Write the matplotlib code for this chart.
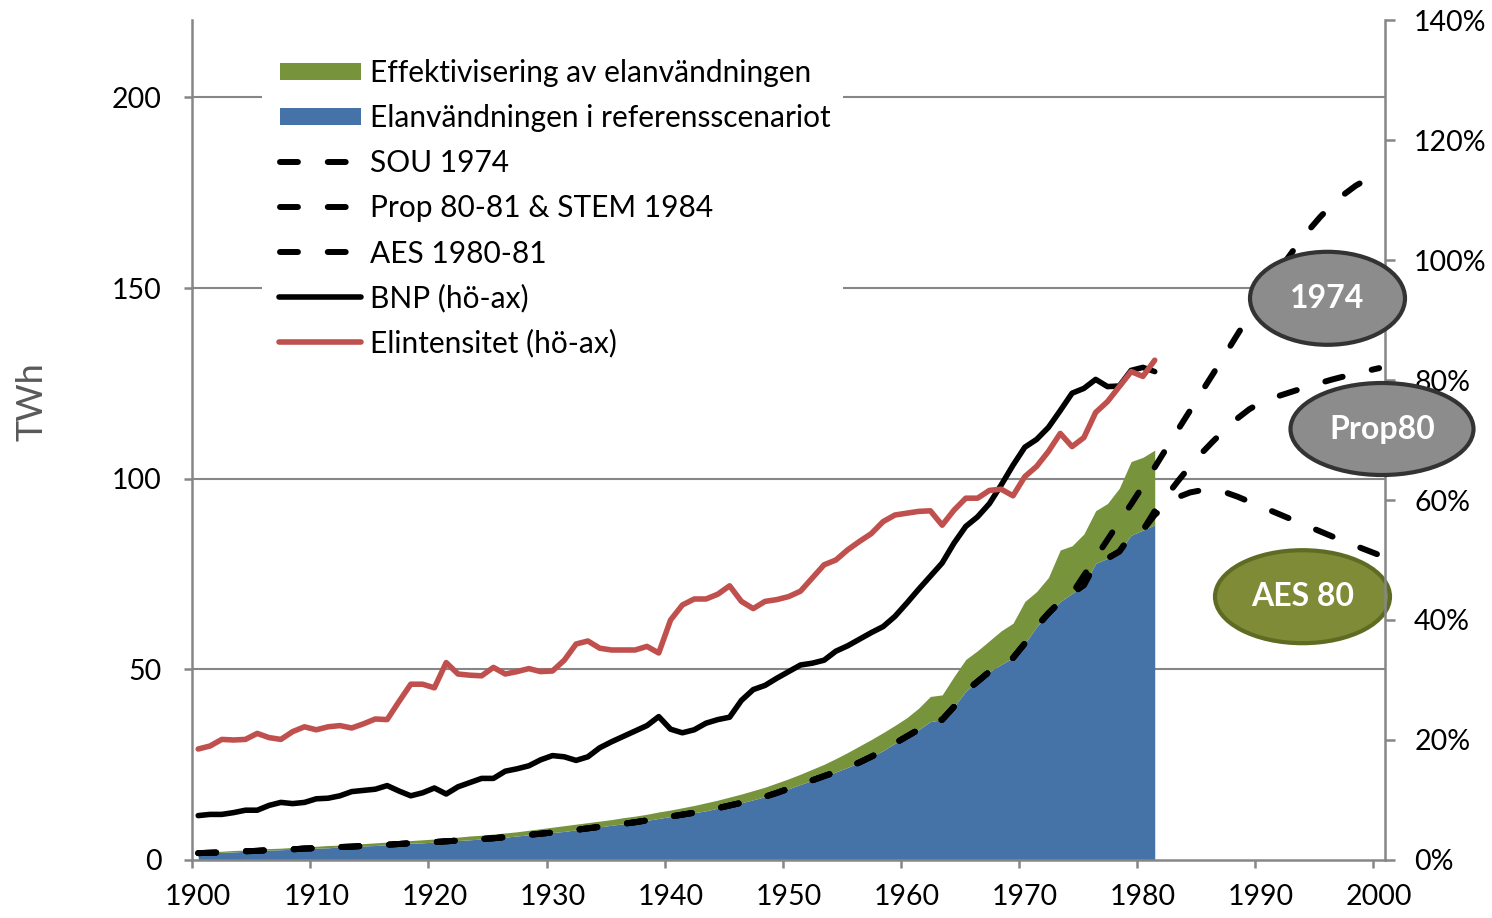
import matplotlib
matplotlib.use('Agg')
import matplotlib.pyplot as plt
from matplotlib.patches import Ellipse, Rectangle
from matplotlib.lines import Line2D
from matplotlib.ticker import FixedLocator, FuncFormatter

plt.rcParams['font.family'] = ['Lato', 'DejaVu Sans']

# ---------------- data ----------------
hist_years = list(range(1900, 1982))

ref = [1.8, 1.9, 2.0, 2.1, 2.3, 2.4, 2.6, 2.7, 2.8, 3.0,
       3.1, 3.2, 3.4, 3.5, 3.7, 3.8, 4.0, 4.2, 4.4, 4.5,
       4.7, 4.9, 5.1, 5.3, 5.5, 5.7, 6.0, 6.3, 6.6, 6.9,
       7.2, 7.5, 7.9, 8.3, 8.7, 9.1, 9.5, 9.9, 10.4, 10.9,
       11.4, 11.9, 12.4, 12.9, 13.6, 14.3, 15.0, 15.8, 16.6, 17.6,
       18.7, 19.8, 20.9, 22.0, 23.1, 24.3, 25.6, 27.1, 28.7, 30.6,
       32.4, 34.2, 36.3, 36.8, 40.2, 44.3, 46.8, 49.4, 51.3, 53.0,
       56.8, 61.2, 64.7, 67.8, 69.9, 72.1, 77.8, 79.1, 80.9, 85.2,
       86.5, 87.9]

eff = [0.3, 0.3, 0.3, 0.4, 0.3, 0.4, 0.4, 0.4, 0.5, 0.5,
       0.5, 0.6, 0.5, 0.6, 0.6, 0.7, 0.7, 0.7, 0.7, 0.8,
       0.8, 0.9, 0.9, 1.0, 1.0, 1.1, 1.1, 1.1, 1.2, 1.3,
       1.4, 1.5, 1.5, 1.5, 1.5, 1.5, 1.6, 1.6, 1.6, 1.7,
       1.7, 1.8, 1.9, 2.1, 2.1, 2.2, 2.3, 2.4, 2.5, 2.6,
       2.6, 2.7, 2.9, 3.1, 3.5, 3.9, 4.3, 4.5, 4.7, 4.7,
       4.9, 5.6, 6.6, 6.5, 7.9, 8.3, 8.1, 8.1, 8.8, 9.1,
       11.0, 9.2, 9.4, 13.5, 12.5, 13.4, 13.8, 14.4, 16.6, 19.3,
       19.1, 19.6]

bnp = [0.074, 0.076, 0.076, 0.079, 0.083, 0.083, 0.091, 0.096, 0.094, 0.096,
       0.102, 0.103, 0.107, 0.114, 0.116, 0.118, 0.124, 0.115, 0.107, 0.112,
       0.120, 0.110, 0.122, 0.129, 0.136, 0.136, 0.148, 0.152, 0.157, 0.167,
       0.174, 0.172, 0.166, 0.172, 0.187, 0.197, 0.206, 0.215, 0.224, 0.239,
       0.218, 0.212, 0.217, 0.228, 0.234, 0.238, 0.266, 0.284, 0.291, 0.303,
       0.314, 0.325, 0.328, 0.333, 0.348, 0.357, 0.368, 0.379, 0.389, 0.406,
       0.428, 0.451, 0.473, 0.495, 0.528, 0.556, 0.572, 0.594, 0.625, 0.658,
       0.688, 0.701, 0.721, 0.749, 0.778, 0.786, 0.801, 0.789, 0.790, 0.816,
       0.821, 0.814]

elint = [0.185, 0.190, 0.201, 0.200, 0.201, 0.211, 0.204, 0.201, 0.214, 0.222,
         0.217, 0.222, 0.224, 0.220, 0.227, 0.235, 0.234, 0.264, 0.293, 0.293,
         0.287, 0.329, 0.310, 0.308, 0.307, 0.321, 0.310, 0.314, 0.319, 0.314,
         0.315, 0.333, 0.360, 0.365, 0.353, 0.350, 0.350, 0.350, 0.356, 0.345,
         0.400, 0.425, 0.435, 0.435, 0.443, 0.457, 0.431, 0.419, 0.431, 0.434,
         0.439, 0.448, 0.470, 0.492, 0.500, 0.517, 0.531, 0.544, 0.564, 0.575,
         0.578, 0.581, 0.582, 0.558, 0.583, 0.603, 0.603, 0.616, 0.618, 0.607,
         0.639, 0.656, 0.681, 0.711, 0.689, 0.704, 0.746, 0.764, 0.789, 0.814,
         0.806, 0.833]

# forecasts (continue from the historic reference curve)
sou_years = list(range(1975, 2001))
sou_vals = [74.6, 79.3, 84.0, 88.7, 93.3, 98.1, 103.0, 108.0, 113.0, 117.9,
            122.9, 127.8, 132.8, 137.8, 142.7, 147.5, 152.2, 156.7, 161.0, 165.0,
            168.6, 171.8, 174.5, 176.8, 178.6, 180.0]
prop_years = list(range(1981, 2001))
prop_vals = [91.5, 95.5, 99.5, 103.3, 106.8, 110.0, 113.0, 115.8, 118.2, 120.0,
             121.2, 122.2, 123.2, 124.2, 125.1, 126.0, 126.8, 127.6, 128.3, 129.0]
aes_years = list(range(1981, 2001))
aes_vals = [90.5, 93.2, 95.2, 96.4, 97.0, 97.0, 96.4, 95.3, 94.0, 92.7,
            91.4, 90.1, 88.8, 87.5, 86.2, 84.9, 83.6, 82.4, 81.2, 80.0]

legend_labels = ['Effektivisering av elanvändningen',
                 'Elanvändningen i referensscenariot',
                 'SOU 1974', 'Prop 80-81 & STEM 1984', 'AES 1980-81',
                 'BNP (hö-ax)', 'Elintensitet (hö-ax)']
callouts = ['1974', 'Prop80', 'AES 80']

x_ticks = list(range(1900, 2001, 10))
y_ticks = [0, 50, 100, 150, 200]
y2_ticks = [0, 0.2, 0.4, 0.6, 0.8, 1.0, 1.2, 1.4]

# ---------------- style ----------------
C_BLUE = '#4572A7'
C_GREEN = '#77933C'
C_RED = '#C0504D'
C_GRID = '#868686'
W, H = 1492, 918

fig = plt.figure(figsize=(W / 100, H / 100), dpi=100)
fig.patch.set_facecolor('white')
L, R, T, B = 192.3, 1385.0, 20.0, 860.0
ax = fig.add_axes([L / W, 1 - B / H, (R - L) / W, (B - T) / H])
ax.patch.set_visible(False)
ax.set_zorder(0)
ax2 = ax.twinx()
ax2.set_zorder(2)
ax2.patch.set_visible(False)

ax.set_xlim(1899.5, 2000.5)
ax.set_ylim(0, 220.3)
ax2.set_ylim(0, 1.4)

# areas
top = [r + e for r, e in zip(ref, eff)]
ax.fill_between(hist_years, 0, ref, color=C_BLUE, lw=0, zorder=2)
ax.fill_between(hist_years, ref, top, color=C_GREEN, lw=0, zorder=2)

# forecast dashed lines
dash = (0, (3, 5))
lw_d = 4.3
idx74 = hist_years.index(1974)
idx80 = hist_years.index(1980)
ax.plot(hist_years[:idx74 + 1] + sou_years, ref[:idx74 + 1] + sou_vals,
        color='black', lw=lw_d, ls=dash, dash_capstyle='round', zorder=3)
ax.plot(hist_years[:idx80 + 1] + prop_years, ref[:idx80 + 1] + prop_vals,
        color='black', lw=lw_d, ls=dash, dash_capstyle='round', zorder=3)
ax.plot(hist_years[:idx80 + 1] + aes_years, ref[:idx80 + 1] + aes_vals,
        color='black', lw=lw_d, ls=dash, dash_capstyle='round', zorder=3)

# right-axis lines
ax2.plot(hist_years, bnp, color='black', lw=4.0, solid_joinstyle='round',
         solid_capstyle='round', zorder=3)
ax2.plot(hist_years, elint, color=C_RED, lw=4.0, solid_joinstyle='round',
         solid_capstyle='round', zorder=4)

# grid
for v in y_ticks[1:]:
    ax.axhline(v, color=C_GRID, lw=1.5, zorder=1)

# spines
for a in (ax, ax2):
    a.spines['top'].set_visible(False)
ax.spines['right'].set_visible(False)
ax2.spines['left'].set_visible(False)
ax2.spines['bottom'].set_visible(False)
for sp in (ax.spines['left'], ax.spines['bottom'], ax2.spines['right']):
    sp.set_color(C_GRID)
    sp.set_linewidth(1.8)

FS = 20.5
ax.xaxis.set_major_locator(FixedLocator(x_ticks))
ax.xaxis.set_minor_locator(FixedLocator([t - 0.5 for t in x_ticks]))
ax.set_xticklabels([str(t) for t in x_ticks])
ax.tick_params(axis='x', which='major', length=0, pad=17, labelsize=FS)
ax.tick_params(axis='x', which='minor', length=6, width=1.8, color=C_GRID)
ax.yaxis.set_major_locator(FixedLocator(y_ticks))
ax.tick_params(axis='y', which='major', length=6, width=1.8, color=C_GRID,
               pad=16, labelsize=FS)
ax2.yaxis.set_major_locator(FixedLocator(y2_ticks))
ax2.yaxis.set_major_formatter(FuncFormatter(lambda v, p: f'{v * 100:.0f}%'))
ax2.tick_params(axis='y', which='major', length=7, width=1.8, color=C_GRID,
                pad=14, labelsize=FS)

fig.text(32 / W, 1 - 402 / H, 'TWh', rotation=90, fontsize=26, color='#595959',
         ha='center', va='center')

# ---------------- legend (figure pixel coordinates) ----------------
def fx(x):
    return x / W


def fy(y):
    return 1 - y / H


fig.patches.append(Rectangle((fx(262), fy(365)), fx(843) - fx(262), fy(45) - fy(365),
                             transform=fig.transFigure, facecolor='white',
                             edgecolor='none', zorder=5))
LFS = 21.5
rows = [71.7 + 45.1 * k for k in range(7)]
for k, lab in enumerate(legend_labels):
    yy = rows[k]
    if k < 2:
        col = C_GREEN if k == 0 else C_BLUE
        fig.patches.append(Rectangle((fx(280), fy(yy + 8.5)), fx(361) - fx(280), 17 / H,
                                     transform=fig.transFigure, facecolor=col,
                                     edgecolor='none', zorder=6))
    elif k < 5:
        fig.lines.append(Line2D([fx(280), fx(350)], [fy(yy), fy(yy)], transform=fig.transFigure,
                                color='black', lw=lw_d, ls=dash, dash_capstyle='round',
                                zorder=6))
    else:
        col = 'black' if k == 5 else C_RED
        fig.lines.append(Line2D([fx(279), fx(361)], [fy(yy), fy(yy)], transform=fig.transFigure,
                                color=col, lw=4.0, solid_capstyle='round', zorder=6))
    fig.text(fx(370), fy(yy + 10.5), lab, fontsize=LFS, ha='left', va='baseline',
             color='black', zorder=7)

# ---------------- callout ellipses ----------------
ell_specs = [
    (callouts[0], 1327.5, 298.3, 155, 93, '#8C8C8C', '#333333', 6),
    (callouts[1], 1382.0, 429.0, 183, 92, '#8C8C8C', '#333333', 6),
    (callouts[2], 1302.5, 596.7, 175, 93, '#7F8B37', '#5E6B22', 1),
]
for txt, cx, cy, w, h, fc, ec, z in ell_specs:
    fig.patches.append(Ellipse((fx(cx), fy(cy)), w / W, h / H, transform=fig.transFigure,
                               facecolor=fc, edgecolor=ec, lw=3.0, zorder=z))
    fig.text(fx(cx), fy(cy), txt, fontsize=23, fontweight='bold', color='white',
             ha='center', va='center', zorder=z + 0.5)

fig.savefig('out.png', dpi=100, facecolor='white')
